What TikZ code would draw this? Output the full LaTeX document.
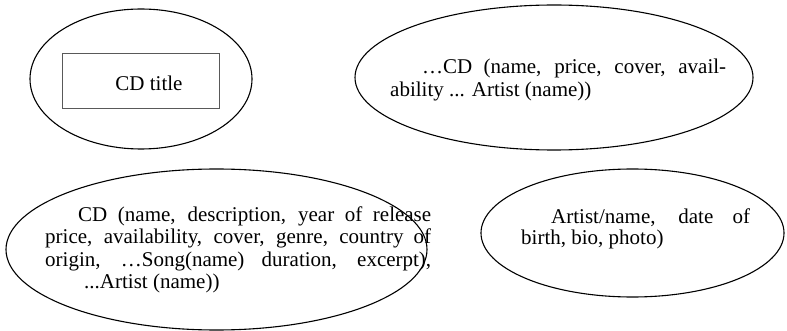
\documentclass[tikz,border=0pt]{standalone}
\usepackage{fontspec}
\setmainfont{Liberation Serif}
\usetikzlibrary{shapes.geometric}

% one justified line of a given width
\newcommand\fullline[2]{\hbox to #1{#2}}

\begin{document}
\begin{tikzpicture}[x=1pt,y=-1pt,
  bubble/.style={draw=black,line width=1.1pt,ellipse,inner sep=0pt},
  titlebox/.style={draw=black!65,line width=0.8pt,inner sep=0pt},
  label/.style={inner sep=0pt,anchor=base west,
    font=\fontsize{21}{22.7}\selectfont},
  every node/.append style={font=\fontsize{21}{22.7}\selectfont}]
\useasboundingbox (0,0) rectangle (787,331);

% top left: the CD title
\node[bubble,minimum width=222pt,minimum height=140pt] (title) at (141,79) {};
\node[titlebox,minimum width=157pt,minimum height=55pt] (titlerect) at (140.5,80.5) {};
\node[inner sep=0pt,anchor=base] (titletext) at (149,90.5) {CD title};

% top right: CD summary
\node[bubble,minimum width=398pt,minimum height=145pt] (summary) at (554,77.5) {};
\node[label] (summarytext) at (390,73.5) {\vtop{\baselineskip=23.5pt
  \fullline{336pt}{\hskip32pt …CD (name, price, cover, avail-}
  \hbox{ability ... Artist (name))}}};

% bottom left: CD details
\node[bubble,minimum width=421pt,minimum height=161pt] (details) at (216.5,249.5) {};
\node[label] (detailstext) at (45,221.7) {\vtop{\baselineskip=22.2pt
  \fullline{386pt}{\hskip33pt CD (name, description, year of release}
  \fullline{386pt}{price, availability, cover, genre, country of}
  \fullline{386pt}{origin, …Song(name) duration, excerpt),}
  \hbox{\hskip39pt ...Artist (name))}}};

% bottom right: artist
\node[bubble,minimum width=303pt,minimum height=128pt] (artist) at (632.5,233) {};
\node[label] (artisttext) at (521,223.5) {\vtop{\baselineskip=21pt
  \fullline{229pt}{\hskip30pt Artist/name, date of}
  \hbox{birth, bio, photo)}}};
\end{tikzpicture}
\end{document}
